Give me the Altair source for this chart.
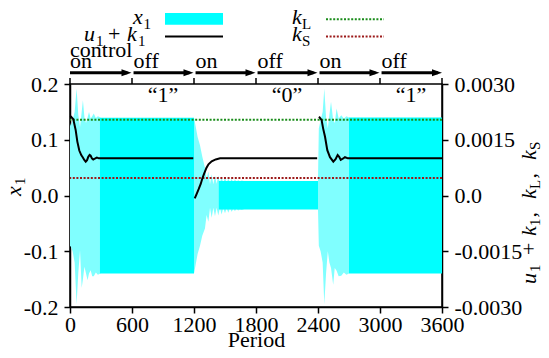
import altair as alt
import pandas as pd

# ---------------- data ----------------
period_ticks = [0, 600, 1200, 1800, 2400, 3000, 3600]
left_ticks = [-0.2, -0.1, 0.0, 0.1, 0.2]
right_ticks = [-0.003, -0.0015, 0.0, 0.0015, 0.003]

k_L = 0.00204
k_S = 0.00047

# x1: transient envelopes (light cyan)
env1_t = [0, 8, 25, 45, 64, 80, 97, 113, 125, 140, 155, 170, 184, 200, 215, 230, 250, 270, 295]
env1_hi = [0.13, 0.125, 0.135, 0.15, 0.192, 0.145, 0.123, 0.15, 0.171, 0.14, 0.13, 0.14, 0.15, 0.138, 0.142, 0.147, 0.139, 0.142, 0.14]
env1_lo = [-0.09, -0.092, -0.1, -0.12, -0.195, -0.14, -0.098, -0.166, -0.15, -0.128, -0.14, -0.152, -0.14, -0.134, -0.145, -0.145, -0.138, -0.142, -0.14]

env2_t = [1200, 1215, 1235, 1258, 1280, 1306, 1322, 1339, 1355, 1371, 1387, 1403, 1419, 1435, 1451,
          1467, 1483, 1500, 1516, 1532, 1548, 1564, 1580, 1596, 1612, 1628, 1644, 1660, 1680]
env2_hi = [0.14, 0.125, 0.105, 0.09, 0.07, 0.05, 0.03, 0.043, 0.02, 0.038, 0.02, 0.036, 0.021, 0.036, 0.022,
           0.034, 0.022, 0.033, 0.022, 0.031, 0.023, 0.030, 0.023, 0.029, 0.024, 0.028, 0.024, 0.027, 0.026]
env2_lo = [-0.14, -0.125, -0.105, -0.09, -0.072, -0.059, -0.035, -0.047, -0.022, -0.040, -0.022, -0.037, -0.022, -0.036, -0.022,
           -0.034, -0.023, -0.032, -0.023, -0.031, -0.023, -0.029, -0.024, -0.028, -0.024, -0.027, -0.025, -0.026, -0.025]

env3_t = [2400, 2408, 2425, 2445, 2461, 2478, 2495, 2510, 2526, 2547, 2562, 2580, 2600, 2625, 2650, 2675, 2700]
env3_hi = [0.03, 0.12, 0.135, 0.15, 0.192, 0.14, 0.12, 0.145, 0.168, 0.135, 0.13, 0.156, 0.138, 0.144, 0.138, 0.142, 0.14]
env3_lo = [-0.025, -0.09, -0.1, -0.12, -0.195, -0.14, -0.1, -0.12, -0.13, -0.16, -0.13, -0.135, -0.145, -0.144, -0.138, -0.142, -0.14]

# x1: steady oscillation bands (solid cyan)
band_start = [290, 1440, 2700]
band_end = [1200, 2400, 3600]
band_hi = [0.1396, 0.026, 0.1398]
band_lo = [-0.1397, -0.025, -0.14]

# u1 + k1 (right axis)
u1_t = [5, 10, 32, 55, 71, 90, 110, 123, 140, 152, 165, 177, 190, 200, 212, 225, 240, 260, 280, 300, 1193]
u1_v = [0.00214, 0.00212, 0.00205, 0.00176, 0.00145, 0.00121, 0.00108, 0.00103, 0.00095, 0.00091, 0.00095,
        0.00104, 0.00109, 0.00107, 0.00100, 0.00097, 0.00099, 0.00102, 0.00100, 0.00100, 0.00100]
u2_t = [1207, 1225, 1245, 1265, 1282, 1300, 1320, 1340, 1371, 1410, 1452, 2392]
u2_v = [-0.00008, 0.00004, 0.00017, 0.00031, 0.00047, 0.0006, 0.00074, 0.00084, 0.00092, 0.00097, 0.001, 0.001]
u3_t = [2410, 2435, 2450, 2468, 2490, 2516, 2548, 2570, 2590, 2605, 2620, 2640, 2661, 2690, 2720, 3600]
u3_v = [0.00212, 0.00203, 0.0018, 0.00158, 0.00122, 0.00103, 0.00091, 0.00098, 0.00109, 0.00104, 0.00096,
        0.00099, 0.00103, 0.001, 0.001, 0.001]

# control annotations
ctrl_labels = ["on", "off", "on", "off", "on", "off"]
ctrl_start = [0, 615, 1215, 1815, 2415, 3015]
ctrl_tip = [595, 1195, 1795, 2395, 2995, 3600]
bit_labels = ["\u201c1\u201d", "\u201c0\u201d", "\u201c1\u201d"]
bit_pos = [900, 2100, 3300]

# ---------------- tables ----------------
env_rows = []
for seg, (ts, hs, ls) in enumerate([(env1_t, env1_hi, env1_lo), (env2_t, env2_hi, env2_lo), (env3_t, env3_hi, env3_lo)]):
    for t, h, l in zip(ts, hs, ls):
        env_rows.append({"t": t, "hi": h, "lo": l, "seg": seg})
env_df = pd.DataFrame(env_rows)

band_rows = []
for seg, (a, b, h, l) in enumerate(zip(band_start, band_end, band_hi, band_lo)):
    band_rows.append({"t": a, "hi": h, "lo": l, "seg": seg})
    band_rows.append({"t": b, "hi": h, "lo": l, "seg": seg})
band_df = pd.DataFrame(band_rows)

line_rows = []
for seg, (ts, vs) in enumerate([(u1_t, u1_v), (u2_t, u2_v), (u3_t, u3_v)]):
    for t, v in zip(ts, vs):
        line_rows.append({"t": t, "v": v, "seg": seg})
line_df = pd.DataFrame(line_rows)

FONT = "Liberation Serif"
W, H = 372, 223
OX, OY = 70, 84  # page position of plot origin
GREEN = "#1a8c1a"
RED = "#9c1a1a"
CYAN = "#00ffff"
LIGHT = "#80ffff"
FS = 22   # tick-label size
TS = 22   # text size
SS = 15   # subscript size

xenc = alt.X("t:Q", scale=alt.Scale(domain=[0, 3600], nice=False, zero=False),
             axis=alt.Axis(values=period_ticks, title="Period", format="d", labelFlush=False,
                           labelOverlap=False, tickSize=6, labelPadding=1,
                           titleBaseline="alphabetic", titleY=39))

yleft = alt.Y("hi:Q", scale=alt.Scale(domain=[-0.2, 0.2], nice=False, zero=False),
              axis=alt.Axis(values=left_ticks, title=None, orient="left", tickSize=6, labelPadding=6,
                            labelOverlap=False, labelFlush=False,
                            labelExpr="replace(format(datum.value, '.1f'), '\u2212', '-')"))

yright = alt.Y("v:Q", scale=alt.Scale(domain=[-0.003, 0.003], nice=False, zero=False),
               axis=alt.Axis(values=right_ticks, title=None, orient="right", tickSize=6, labelPadding=6,
                             labelOverlap=False, labelFlush=False,
                             labelExpr="datum.value == 0 ? '0.0' : replace(format(datum.value, '.4f'), '\u2212', '-')"))

light = alt.Chart(env_df).mark_area(color=LIGHT, interpolate="linear").encode(
    x=xenc, y=yleft, y2="lo:Q", detail="seg:N")
solid = alt.Chart(band_df).mark_area(color=CYAN, interpolate="linear").encode(
    x=xenc, y=yleft, y2="lo:Q", detail="seg:N")
left = alt.layer(light, solid)

kl_rule = alt.Chart(pd.DataFrame({"v": [k_L]})).mark_rule(
    color=GREEN, strokeDash=[2, 1.6], strokeWidth=2).encode(y=yright)
ks_rule = alt.Chart(pd.DataFrame({"v": [k_S]})).mark_rule(
    color=RED, strokeDash=[2, 1.6], strokeWidth=2).encode(y=yright)
uline = alt.Chart(line_df).mark_line(color="black", strokeWidth=2).encode(
    x=xenc, y=yright, detail="seg:N")
right = alt.layer(kl_rule, ks_rule, uline)

dummy = pd.DataFrame({"d": [0]})


def txt(s, px, py, size=TS, italic=False, angle=0, align="left"):
    return alt.Chart(dummy).mark_text(
        text=s, font=FONT, fontSize=size, fontStyle="italic" if italic else "normal",
        align=align, baseline="alphabetic", angle=angle, color="black"
    ).encode(x=alt.value(px - OX), y=alt.value(py - OY))


def hline(x1, x2, py, color, width=2, dash=None):
    kw = dict(color=color, strokeWidth=width)
    if dash:
        kw["strokeDash"] = dash
    return alt.Chart(dummy).mark_rule(**kw).encode(
        x=alt.value(x1 - OX), x2=alt.value(x2 - OX), y=alt.value(py - OY))


annots = []
# top ticks (top frame)
annots.append(alt.Chart(pd.DataFrame({"t": period_ticks})).mark_rule(color="black", strokeWidth=1.5).encode(
    x=xenc, y=alt.value(0), y2=alt.value(-6)))
# control arrows
arr_df = pd.DataFrame({"t": ctrl_start, "t2": [t - 40 for t in ctrl_tip], "label": ctrl_labels})
annots.append(alt.Chart(arr_df).mark_rule(color="black", strokeWidth=3).encode(
    x=xenc, x2="t2:Q", y=alt.value(72.7 - OY)))
annots.append(alt.Chart(pd.DataFrame({"t": ctrl_tip})).mark_point(
    shape="M0,0L-2,-0.7L-2,0.7Z", size=100, filled=True, color="black", opacity=1, strokeWidth=0).encode(
    x=xenc, y=alt.value(72.7 - OY)))
annots.append(alt.Chart(arr_df).mark_text(font=FONT, fontSize=TS, align="left", baseline="alphabetic",
                                           color="black").encode(
    x=xenc, y=alt.value(67.7 - OY), text="label:N"))
annots.append(txt("control", 70, 56.7))
# bit labels
annots.append(alt.Chart(pd.DataFrame({"t": bit_pos, "label": bit_labels})).mark_text(
    font=FONT, fontSize=TS, align="center", baseline="alphabetic", color="black").encode(
    x=xenc, y=alt.value(101.5 - OY), text="label:N"))

# legend
r1, r2 = 24.0, 41.0
annots += [
    txt("x", 133, r1, italic=True), txt("1", 143.5, r1 + 5, size=SS),
    txt("u", 84, r2, italic=True), txt("1", 96, r2 + 5, size=SS), txt("+", 108, r2),
    txt("k", 127, r2, italic=True), txt("1", 138, r2 + 5, size=SS),
    txt("k", 292, r1, italic=True), txt("L", 302, r1 + 5, size=SS),
    txt("k", 292, r2, italic=True), txt("S", 302, r2 + 5, size=SS),
]
annots.append(alt.Chart(dummy).mark_rect(color=CYAN).encode(
    x=alt.value(165 - OX), x2=alt.value(223 - OX), y=alt.value(r1 - 11 - OY), y2=alt.value(r1 + 0.8 - OY)))
annots.append(hline(165, 223, r2 - 4.4, "black", 2))
annots.append(hline(326, 384, r1 - 4.7, GREEN, 2, [2, 1.6]))
annots.append(hline(326, 384, r2 - 4.4, RED, 2, [2, 1.6]))

# left axis title x_1 (rotated)
annots += [txt("x", 21, 196, italic=True, angle=270), txt("1", 25, 185, size=SS, angle=270)]
# right axis title u_1 + k_1, k_L, k_S (rotated)
mx, sx = 536, 540
annots += [
    txt("u", mx, 284, italic=True, angle=270), txt("1", sx, 272, size=SS, angle=270),
    txt("+", mx, 255, angle=270),
    txt("k", mx, 236, italic=True, angle=270), txt("1", sx, 226, size=SS, angle=270),
    txt(",", mx, 217.5, angle=270),
    txt("k", mx, 199, italic=True, angle=270), txt("L", sx, 189, size=SS, angle=270),
    txt(",", mx, 178.5, angle=270),
    txt("k", mx, 160, italic=True, angle=270), txt("S", sx, 150, size=SS, angle=270),
]

chart = alt.layer(left, right, *annots).resolve_scale(y="independent").properties(
    width=W, height=H,
    padding={"left": 62, "top": 76, "right": 99, "bottom": 43},
    autosize=alt.AutoSizeParams(type="none"),
    background="white",
).configure_view(stroke="black", strokeWidth=1.5).configure_axis(
    labelFont=FONT, labelFontSize=FS, titleFont=FONT, titleFontSize=FS, titleFontWeight="normal",
    labelColor="black", titleColor="black", domainColor="black", tickColor="black",
    domainWidth=1.5, tickWidth=1.5, grid=False,
)

chart.save("out.html", embed_options={"renderer": "svg", "actions": False})
